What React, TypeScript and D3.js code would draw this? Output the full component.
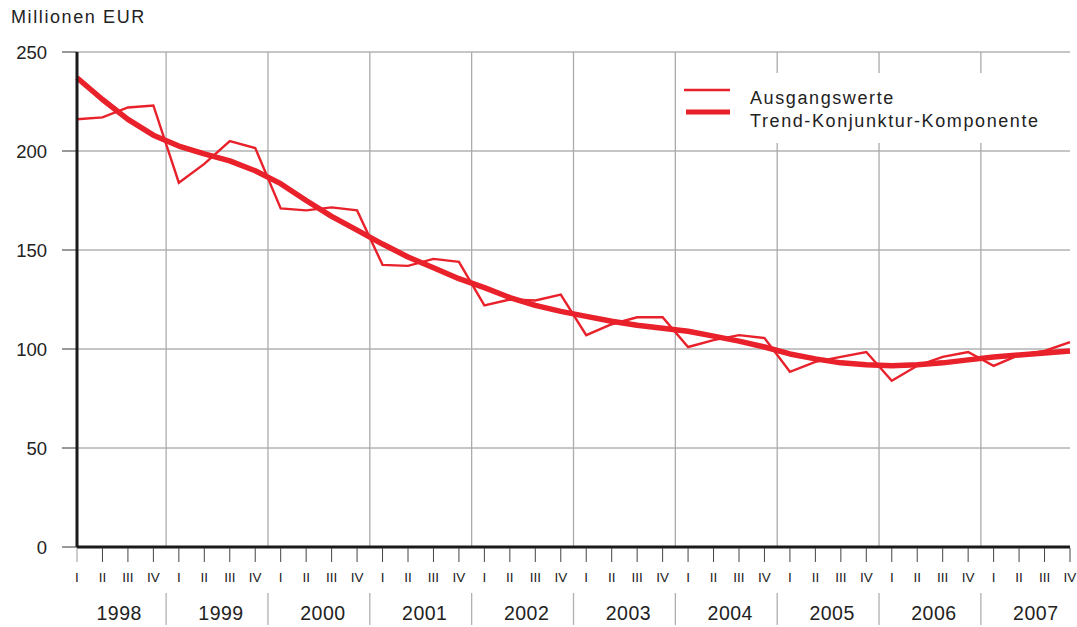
import React from "react";
import * as d3 from "d3";

// quarterly values 1998 Q1 .. 2007 Q4, Millionen EUR
const years = ["1998", "1999", "2000", "2001", "2002", "2003", "2004", "2005", "2006", "2007"];
const quarters = ["I", "II", "III", "IV"];
const ausgangswerte = [
  216, 217, 222, 223,
  184, 193.5, 205, 201.5,
  171, 170, 171.5, 170,
  142.5, 142, 145.5, 144,
  122, 125, 124.5, 127.5,
  107, 112.5, 116, 116,
  101, 104.5, 107, 105.5,
  88.5, 93.5, 96, 98.5,
  84, 91.5, 96, 98.5,
  91.5, 97, 99, 103.5,
];
const trend = [
  237, 226, 216, 208,
  202.5, 198.5, 195, 190,
  183.5, 175, 167, 160,
  153, 146.5, 141, 135.5,
  131, 126, 122, 119,
  116.5, 114, 112, 110.5,
  109, 106.5, 104, 101,
  97.5, 95, 93, 92,
  91.5, 92, 93, 94.5,
  96, 97, 98, 99,
];
const yTicks = [0, 50, 100, 150, 200, 250];
const seriesLabels = ["Ausgangswerte", "Trend-Konjunktur-Komponente"];

const W = 1077;
const H = 627;
const RED = "#e8212b";
const FONT = "'Liberation Sans', Arial, Helvetica, sans-serif";

export default function App() {
  const x = d3.scaleLinear().domain([0, ausgangswerte.length - 1]).range([77, 1070]);
  const y = d3.scaleLinear().domain([0, 250]).range([547, 52]);

  const line = d3
    .line<number>()
    .x((_, i) => x(i))
    .y((d) => y(d));

  const yearSeps = years.slice(1).map((_, i) => x(i * 4 + 3.5));

  return (
    <svg
      width={W}
      height={H}
      style={{ position: "absolute", left: 0, top: 0, background: "#fff" }}
      fontFamily={FONT}
    >
      <text x={11} y={23} fontSize={18} letterSpacing={1.6} fill="#222">
        Millionen EUR
      </text>

      {/* horizontal grid */}
      {yTicks.slice(1).map((t) => (
        <line key={t} x1={x(0)} x2={x(39)} y1={y(t)} y2={y(t)} stroke="#8c8c8c" strokeWidth={1} />
      ))}
      {/* vertical grid at year boundaries */}
      {yearSeps.map((sx, i) => (
        <line key={i} x1={sx} x2={sx} y1={y(250)} y2={y(0)} stroke="#ababab" strokeWidth={1.3} />
      ))}

      {/* legend background */}
      <rect x={680} y={73} width={386} height={70} fill="#fff" />
      <line x1={684} x2={730} y1={90} y2={90} stroke={RED} strokeWidth={2.6} />
      <line x1={686} x2={730} y1={112} y2={112} stroke={RED} strokeWidth={5} />
      <text x={750} y={104} fontSize={18} letterSpacing={1.6} fill="#222">
        {seriesLabels[0]}
      </text>
      <text x={750} y={127} fontSize={18} letterSpacing={1.6} fill="#222">
        {seriesLabels[1]}
      </text>

      {/* y ticks + labels */}
      {yTicks.map((t) => (
        <g key={t}>
          <line x1={62} x2={77} y1={y(t)} y2={y(t)} stroke="#333" strokeWidth={1} />
          <text
            x={47}
            y={y(t)}
            dy="0.36em"
            textAnchor="end"
            fontSize={18.5}
            fill="#222"
          >
            {t}
          </text>
        </g>
      ))}

      {/* series */}
      <path d={line(ausgangswerte) ?? ""} fill="none" stroke={RED} strokeWidth={2.4} strokeLinejoin="miter" />
      <path d={line(trend) ?? ""} fill="none" stroke={RED} strokeWidth={5.5} strokeLinejoin="round" />

      {/* axes */}
      <line x1={x(0)} x2={x(0)} y1={y(250)} y2={y(0)} stroke="#1a1a1a" strokeWidth={3} />
      <line x1={x(0)} x2={x(39)} y1={y(0)} y2={y(0)} stroke="#1a1a1a" strokeWidth={3} />

      {/* quarter ticks + labels */}
      {ausgangswerte.map((_, i) => (
        <g key={i}>
          <line x1={x(i)} x2={x(i)} y1={y(0) + 1} y2={y(0) + 15} stroke={i === 0 ? "#999" : "#444"} strokeWidth={1} />
          <text x={x(i)} y={582} textAnchor="middle" fontSize={13.5} fill="#222">
            {quarters[i % 4]}
          </text>
        </g>
      ))}

      {/* year labels */}
      {years.map((yr, i) => (
        <text key={yr} x={x(i * 4 + 1.5) + 4} y={620} textAnchor="middle" fontSize={19.5} letterSpacing={0.5} fill="#222">
          {yr}
        </text>
      ))}
      {yearSeps.map((sx, i) => (
        <line key={i} x1={sx} x2={sx} y1={593} y2={625} stroke="#b0b0b0" strokeWidth={1.3} />
      ))}
    </svg>
  );
}
